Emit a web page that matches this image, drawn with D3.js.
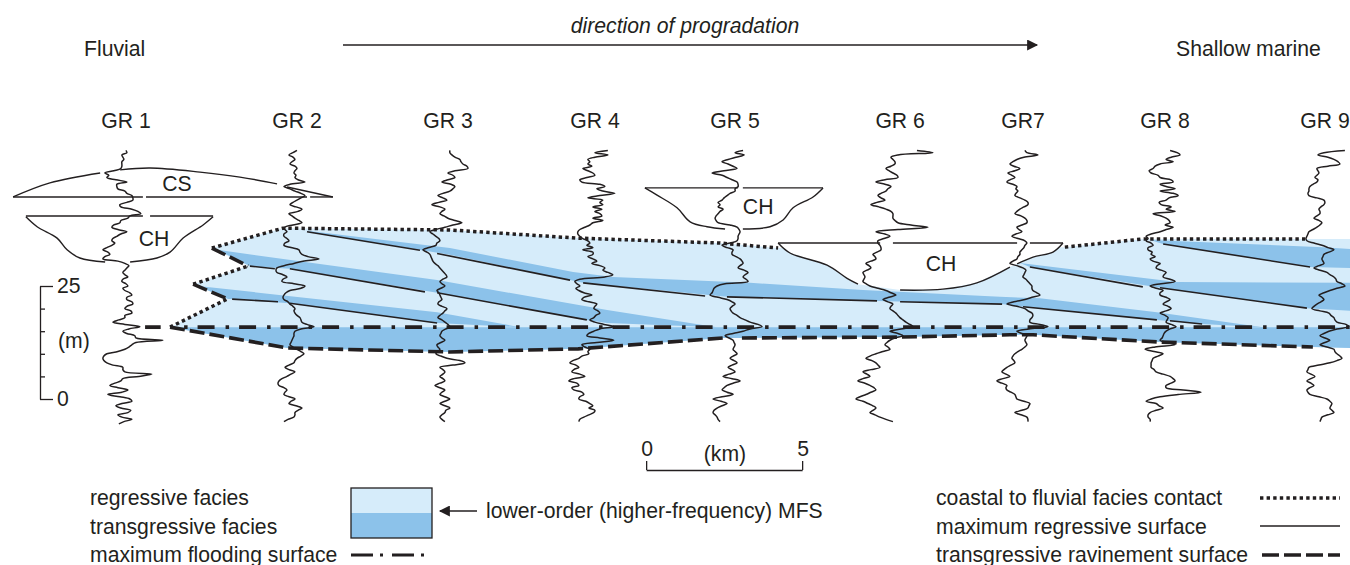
<!DOCTYPE html>
<html>
<head>
<meta charset="utf-8">
<script src="https://d3js.org/d3.v7.min.js"></script>
<style>
body { margin: 0; background: #fff; }
text { font-family: "Liberation Sans", Arial, sans-serif; fill: #231f20; }
</style>
</head>
<body>
<svg id="chart" width="1350" height="565"></svg>
<script>
// well names, where they sit along the section (km) and where the name goes
let wellNames = ["GR 1", "GR 2", "GR 3", "GR 4", "GR 5", "GR 6", "GR7", "GR 8", "GR 9"];
let wellKm = [3.97, 9.39, 14.26, 18.97, 23.40, 28.30, 32.69, 37.28, 42.37];
let wellLabelKm = [4.04, 9.52, 14.36, 19.07, 23.56, 28.85, 32.79, 37.34, 42.47];

// gamma ray deviation per log, one reading every half metre going down from 55 m
let gr1 = [2,3,-2,-1,0,-2,-2,-2,-3,-10,-19,-15,-17,-8,3,-7,-7,-6,1,3,8,9,9,3,-4,-3,8,14,17,6,4,-3,-4,-10,-12,-6,3,-3,-7,-11,-12,-9,-12,-17,-21,-16,-14,-19,-21,-6,1,5,3,1,-1,1,4,-1,-2,2,4,-1,1,6,8,3,3,8,9,3,1,7,8,1,1,-5,-11,1,16,5,-1,3,11,12,39,12,8,5,1,-6,-17,-20,-21,-20,-17,-11,-1,-1,1,28,15,-1,-3,-9,-14,-6,4,-2,-16,-4,6,8,-2,-8,-3,7,4,-6,-2,8,0,-5];
let gr2 = [4,0,-4,0,2,-1,-3,2,4,2,1,3,2,5,12,-3,-9,-3,2,8,12,8,4,0,-3,3,9,5,-4,-1,2,6,9,0,-8,-8,-6,-9,-9,-6,-4,-8,-9,-2,6,7,9,15,26,10,1,-9,-16,-17,-16,-10,-6,-10,-11,1,12,8,-3,-7,-9,-10,-9,-5,-3,0,2,1,2,4,7,8,9,14,21,8,2,1,1,0,-1,-2,-3,0,4,8,11,8,4,2,1,-4,-8,-4,2,-2,-6,-11,-14,-15,-14,-9,-6,-8,-9,-4,2,-2,-4,3,9,5,2,2,1,-5,-9];
let gr3 = [5,5,7,10,15,16,18,22,23,10,3,8,10,3,-3,6,10,8,5,-2,-7,-2,2,-6,-13,-5,0,-3,-5,-1,3,10,17,8,0,-9,-15,-12,-9,-6,-5,-8,-9,-16,-22,-18,-15,-14,-13,-12,-10,-7,-5,-3,-1,1,2,-2,-5,-3,0,-4,-8,-6,-5,-4,-3,-6,-7,-3,2,0,-2,-5,-7,-3,0,3,5,1,-3,-4,-5,-3,0,-4,-8,-7,-5,-7,-9,-4,2,15,20,8,-5,-2,0,-2,-5,-2,0,-5,-10,-5,0,-3,-5,0,5,0,-5,0,5,1,0,-3,-5,-3,0];
let gr4 = [16,3,16,3,-4,-2,-4,0,-9,-4,1,3,-5,-12,-10,8,13,5,11,23,8,-4,11,8,11,1,10,3,8,10,1,11,1,-2,-7,-12,-14,-14,-12,-9,-4,-2,-5,1,-9,1,1,-4,1,5,0,8,13,11,16,21,13,-12,-17,-15,-12,-16,-13,-8,0,-8,-10,-3,5,3,2,6,8,4,2,-2,3,12,22,8,2,-3,-5,8,22,5,-10,-7,-2,-4,-3,-10,-13,-19,-22,-16,-13,-18,-20,-12,-7,-18,-23,-15,-13,-20,-18,-10,-8,-12,-13,-6,-2,1,-3,3,2,-3,-8,-12,-13];
let gr5 = [13,5,14,6,-2,-8,-2,3,7,-6,-18,-8,-3,2,7,8,8,5,5,0,-3,-6,-8,-12,-10,-12,-7,-10,-12,-14,-15,-14,-12,0,7,9,10,9,8,8,7,0,-8,-3,3,2,2,6,10,12,13,10,8,14,18,15,13,16,18,-5,-13,-16,-17,-18,-20,-12,-3,2,5,2,0,1,3,7,10,15,20,28,32,20,13,3,-5,-1,3,4,5,4,3,5,7,3,0,4,7,2,-2,2,5,-1,-7,2,10,3,-3,-6,-8,-3,3,-8,-17,-9,-3,-8,-13,-16,-17,-15,-13,-12,-10];
let gr6 = [34,50,15,8,10,12,12,8,3,6,10,14,15,2,-7,2,8,5,3,-2,-5,-2,2,-6,-12,-4,3,8,10,10,10,12,15,28,45,15,-7,2,7,1,-5,-5,-3,-2,-2,-6,-10,-8,-7,-12,-17,-14,-12,-16,-20,-19,-18,-19,-20,-17,-13,-5,3,8,13,6,0,5,10,8,7,10,13,15,17,20,23,27,30,18,7,15,20,12,7,4,2,5,7,0,-7,-13,-17,-11,-7,-5,-3,-12,-20,-16,-13,-20,-25,-18,-13,-9,-7,-12,-17,-23,-27,-20,-15,-10,-7,-10,-13,-8,-3,3,10];
let gr7 = [5,7,18,4,-3,-7,-10,-6,0,-5,-12,-8,-5,-10,-13,-7,-3,-4,-2,-4,-5,0,5,8,8,4,0,-3,-5,1,5,7,7,2,-3,-1,2,-4,-8,-2,5,7,5,4,2,0,0,-2,-3,-7,-10,-3,3,6,5,4,3,6,8,10,12,12,13,17,20,12,5,-6,-13,-3,5,8,12,13,12,10,10,20,28,9,-3,2,7,6,5,6,7,5,2,-2,-5,-7,-8,-6,-5,-9,-13,-16,-18,-14,-10,-17,-23,-18,-13,-14,-13,-9,-5,-4,-3,4,10,9,8,2,-5,1,7,8,8];
let gr8 = [7,14,17,8,3,10,-3,-8,-10,-14,-12,-5,-3,8,10,-3,3,12,-3,10,15,6,3,-4,-2,8,3,12,-10,-2,3,6,7,2,10,3,-3,-12,-17,-15,-17,-12,-10,-15,-15,-11,-12,-8,-13,-10,-3,-6,-7,-2,3,1,0,7,12,-2,-13,-7,0,-3,-3,3,7,3,0,5,8,3,-3,2,5,4,3,8,13,7,3,1,0,-1,-3,4,12,-8,-18,-9,0,-5,-10,-11,-12,-12,-12,-9,-7,0,7,10,12,8,3,3,20,38,15,-3,-12,-17,-7,-4,0,-7,-13,-15,-15,-13,-13];
let gr9 = [23,2,-4,6,12,16,18,6,-5,-4,-3,-5,-7,-4,-5,-9,-12,-13,-13,-14,-13,-5,2,3,2,-1,-3,-2,-2,-5,-8,-3,0,-2,-5,-9,-13,-14,-15,-16,-15,-8,0,6,12,7,2,1,0,1,2,-3,-8,-2,5,8,12,14,15,20,23,15,8,2,-3,0,2,-1,-5,-8,-10,-2,7,9,12,13,15,24,27,15,7,2,-2,3,8,3,-2,5,12,13,15,18,20,15,8,-3,-13,-14,-15,-11,-7,-11,-15,-11,-8,-12,-15,-14,-12,-3,5,8,10,9,8,10,12,6,0,-1,-2];
let logs = [gr1, gr2, gr3, gr4, gr5, gr6, gr7, gr8, gr9];
let logTop = 55;
let logStep = 0.5;

// facies outlines as [km, m]
let regressive = [[6.79,33.4],[9.07,37.8],[14.42,37.4],[18.49,35.6],[23.08,34.5],[24.94,33.4],[34.13,33.6],[36.63,35.4],[43.27,35.4],[43.27,11.3],[42.08,11.5],[37.18,12.6],[33.11,14.2],[32.37,14.2],[28.85,13.7],[23.78,13.5],[23.17,13.5],[18.53,11.1],[14.42,10.4],[9.20,11.3],[5.45,15.9],[7.28,22.1],[6.19,25.4],[7.95,29.4]];
let transBase = [[5.54,15.9],[43.27,15.9],[43.27,11.3],[42.08,11.5],[37.18,12.6],[33.11,14.2],[32.37,14.2],[28.85,13.7],[23.78,13.5],[23.17,13.5],[18.53,11.1],[14.42,10.4],[9.20,11.3],[5.45,15.9]];
let trans1 = [[9.84,37.2],[14.42,33.4],[18.37,28.1],[19.65,27.0],[24.04,25.7],[27.66,24.1],[32.05,22.6],[33.33,22.3],[37.08,19.2],[40.48,15.9],[38.53,16.6],[37.08,17.5],[32.79,20.4],[32.12,21.0],[28.11,21.7],[23.30,22.6],[18.69,25.7],[14.42,31.9],[9.84,37.0]];
let trans2 = [[6.96,33.0],[14.01,26.3],[19.46,19.7],[22.98,15.9],[19.46,16.8],[18.81,17.5],[14.01,23.5],[9.29,28.8],[8.01,29.4]];
let trans3 = [[6.35,25.0],[14.01,19.2],[16.67,15.9],[14.01,16.8],[9.29,21.2],[7.44,22.1],[7.31,22.1]];
let trans4 = [[32.69,30.1],[37.72,25.9],[43.27,25.7],[43.27,19.5],[41.89,20.1],[37.18,24.6],[33.01,29.2]];
let trans5 = [[36.86,35.2],[42.40,33.6],[43.27,33.2],[43.27,29.0],[41.99,29.2],[37.28,34.3]];
let transBands = [transBase, trans1, trans2, trans3, trans4, trans5];

// surfaces, split where they stop short of the logs
let contactLines = [
  [[6.79,33.4],[9.07,37.8],[14.42,37.4],[18.49,35.6],[23.08,34.5],[24.94,33.4]],
  [[34.13,33.6],[36.63,35.4],[41.83,35.4]],
  [[6.19,25.4],[7.95,29.4]],
  [[5.45,15.9],[7.28,22.1]]
];
let regressiveSurfaces = [
  [[9.84,37.0],[13.46,32.9]], [[14.01,32.2],[18.27,26.3]], [[18.69,25.7],[22.60,22.8]],
  [[23.30,22.6],[28.11,21.7]], [[28.85,21.5],[32.12,21.0]], [[32.79,20.4],[37.08,17.5]],
  [[37.50,17.3],[38.53,16.6]],
  [[8.01,29.4],[8.81,28.8]], [[9.29,28.8],[13.62,23.7]], [[14.01,23.5],[18.81,17.5]],
  [[7.44,22.1],[8.91,21.5]], [[9.29,21.2],[14.01,16.8]],
  [[33.01,29.2],[36.63,24.8]], [[37.18,24.6],[41.89,20.1]],
  [[37.28,34.3],[41.99,29.2]]
];
let ravinement = [
  [[5.45,15.9],[9.20,11.3],[14.42,10.4],[18.53,11.1],[23.17,13.5]],
  [[23.78,13.5],[28.85,13.7],[32.37,14.2],[33.11,14.2],[37.18,12.6],[42.08,11.5]],
  [[6.79,33.4],[7.95,29.4]],
  [[6.19,25.4],[7.31,22.1]]
];
let mfs = [[5.90,15.9],[43.27,15.9]];
let mfsStub = [[4.65,15.9],[5.15,15.9]];

// channel and coastal sand bodies
let whiteFill = [[24.94,34.5],[34.07,34.5],[33.75,32.5],[33.11,31.4],[32.37,29.2],[31.31,25.7],[30.22,24.3],[28.85,24.1],[27.50,25.4],[27.15,26.7],[26.51,29.6],[25.32,32.3]];
let flatEdges = [
  [[0.42,44.7],[4.58,44.7]], [[4.68,44.7],[9.84,44.7]], [[9.94,44.7],[10.67,44.7]],
  [[0.83,40.5],[4.58,40.5]], [[4.81,40.5],[6.83,40.5]],
  [[20.67,46.7],[23.65,46.7]], [[23.81,46.7],[26.38,46.7]],
  [[24.94,34.5],[28.21,34.5]], [[28.62,34.5],[32.60,34.5]], [[33.01,34.5],[34.07,34.5]]
];
let curvedEdges = [
  [[0.42,44.7],[1.60,47.8],[3.21,50.0]],
  [[3.85,50.7],[4.81,51.1],[6.41,50.2],[7.69,49.1],[8.88,47.6]],
  [[9.20,46.9],[10.67,44.7]],
  [[0.83,40.3],[1.19,38.1],[1.83,35.6],[2.15,33.0],[2.56,31.2],[3.37,30.3]],
  [[4.17,30.3],[5.03,31.2],[5.45,32.5],[5.87,35.6],[6.51,38.5],[6.83,40.3]],
  [[20.67,46.7],[21.06,45.1],[21.70,42.3],[22.12,39.2],[22.66,38.1],[23.24,37.6]],
  [[23.81,37.6],[24.68,38.1],[25.10,39.6],[25.42,42.3],[26.06,44.7],[26.38,46.7]],
  [[24.94,34.5],[25.32,32.3],[26.51,29.6],[27.15,26.7],[27.50,25.4]],
  [[28.85,24.1],[30.22,24.3],[31.31,25.7],[32.37,29.2]],
  [[32.60,29.9],[33.11,31.4],[33.75,32.5],[34.07,34.5]]
];
let bodyLabels = [["CS", 5.67, 47.7], ["CH", 4.94, 35.4], ["CH", 24.3, 42.5], ["CH", 30.16, 29.9]];

let metreTicks = [0, 5, 10, 15, 20, 25];
let kmTicks = [0, 5];

let faciesLegend = ["regressive facies", "transgressive facies", "maximum flooding surface"];
let surfaceLegend = ["coastal to fluvial facies contact", "maximum regressive surface", "transgressive ravinement surface"];

let lightBlue = "#d6ecfa";
let darkBlue = "#8cc2ea";
let ink = "#231f20";
let fontSize = 21.2;

let svg = d3.select("#chart");

// 31.2 px to a km and 4.52 px to a metre, same as the scale bars
let xScale = d3.scaleLinear().domain([0, 43.27]).range([0, 1350]);
let yScale = d3.scaleLinear().domain([0, 25]).range([399, 286]);
let grScale = d3.scaleLinear().domain([-50, 50]).range([-50, 50]);

let straight = d3.line().x(d => xScale(d[0])).y(d => yScale(d[1]));
let curved = d3.line().x(d => xScale(d[0])).y(d => yScale(d[1])).curve(d3.curveCatmullRom.alpha(0.5));

// facies fills
svg.append("path").attr("d", straight(regressive) + "Z").style("fill", lightBlue);
svg.selectAll(".band").data(transBands).join("path")
  .attr("class", "band")
  .attr("d", d => straight(d) + "Z")
  .style("fill", darkBlue);
svg.append("path").attr("d", straight(whiteFill) + "Z").style("fill", "#fff");

// surfaces
function drawLines(data, gen, width, dash, offset) {
  svg.append("g").selectAll("path").data(data).join("path")
    .attr("d", gen)
    .style("fill", "none")
    .style("stroke", ink)
    .style("stroke-width", width)
    .style("stroke-dasharray", dash)
    .style("stroke-dashoffset", offset || 0);
}
drawLines(contactLines, straight, 3.5, "3.4 3.2");
drawLines(regressiveSurfaces, straight, 1.6, null);
drawLines(ravinement, straight, 3.6, "15 5");
drawLines([mfs], straight, 3.8, "17 11 3.5 10", 28);
drawLines([mfsStub], straight, 3.8, null);
drawLines(flatEdges, straight, 1.4, null);
drawLines(curvedEdges, curved, 1.4, null);

// gamma ray logs
logs.forEach((log, w) => {
  let logLine = d3.line()
    .x(d => xScale(wellKm[w]) + grScale(d))
    .y((d, i) => yScale(logTop - i * logStep))
    .curve(d3.curveCatmullRom.alpha(0.5));
  svg.append("path")
    .attr("d", logLine(log))
    .style("fill", "none")
    .style("stroke", ink)
    .style("stroke-width", 1.5);
});

// text labels
function label(x, y, txt, size, anchor) {
  return svg.append("text")
    .attr("x", x).attr("y", y)
    .style("font-size", size + "px")
    .style("text-anchor", anchor || "start")
    .text(txt);
}
svg.append("g").selectAll("text").data(wellNames).join("text")
  .attr("x", (d, i) => xScale(wellLabelKm[i]))
  .attr("y", 128)
  .style("font-size", fontSize + "px")
  .style("text-anchor", "middle")
  .text(d => d);
bodyLabels.forEach(d => label(xScale(d[1]), yScale(d[2]), d[0], fontSize, "middle").attr("dy", "0.35em"));

label(84, 56, "Fluvial", fontSize);
label(1176, 56, "Shallow marine", fontSize);
label(685, 33, "direction of progradation", fontSize, "middle").style("font-style", "italic");

// arrows
svg.append("defs").append("marker")
  .attr("id", "head").attr("viewBox", "0 0 10 10")
  .attr("refX", 9).attr("refY", 5)
  .attr("markerWidth", 13).attr("markerHeight", 11)
  .attr("markerUnits", "userSpaceOnUse")
  .attr("orient", "auto")
  .append("path").attr("d", "M0 0L10 5L0 10Z").style("fill", ink);
svg.append("line").attr("x1", 343).attr("x2", 1037).attr("y1", 45).attr("y2", 45)
  .style("stroke", ink).style("stroke-width", 1.3).attr("marker-end", "url(#head)");
svg.append("line").attr("x1", 477).attr("x2", 440).attr("y1", 511).attr("y2", 511)
  .style("stroke", ink).style("stroke-width", 1.5).attr("marker-end", "url(#head)");

// metres scale bar
let mAxis = d3.axisRight(yScale).tickValues(metreTicks).tickSize(5).tickSizeOuter(0).tickFormat("");
let mBar = svg.append("g").attr("transform", "translate(40,0)").call(mAxis);
mBar.selectAll(".tick line").attr("x2", d => (d == 0 || d == 25) ? 13 : 5).style("stroke", ink).style("stroke-width", 1.3);
mBar.select(".domain").style("stroke", ink).style("stroke-width", 1.3);
label(57, 293, "25", fontSize);
label(57, 406, "0", fontSize);
label(58, 348, "(m)", fontSize);

// km scale bar
let kmScale = d3.scaleLinear().domain([0, 5]).range([xScale(20.71), xScale(25.71)]);
let kmAxis = d3.axisTop(kmScale).tickValues(kmTicks).tickSize(9).tickSizeOuter(0).tickFormat("");
let kmBar = svg.append("g").attr("transform", "translate(0,470)").call(kmAxis);
kmBar.selectAll("line").style("stroke", ink).style("stroke-width", 1.3);
kmBar.select(".domain").style("stroke", ink).style("stroke-width", 1.3);
kmTicks.forEach(d => label(kmScale(d) + 1, 456, d, fontSize, "middle"));
label(725, 461, "(km)", fontSize, "middle");

// legend, left side
faciesLegend.forEach((d, i) => label(90, 505 + i * 28.5, d, fontSize));
svg.append("rect").attr("x", 351).attr("y", 488).attr("width", 81).attr("height", 25).style("fill", lightBlue);
svg.append("rect").attr("x", 351).attr("y", 513).attr("width", 81).attr("height", 25).style("fill", darkBlue);
svg.append("rect").attr("x", 351).attr("y", 488).attr("width", 81).attr("height", 50)
  .style("fill", "none").style("stroke", ink).style("stroke-width", 1.3);
label(486, 518, "lower-order (higher-frequency) MFS", fontSize);
svg.append("line").attr("x1", 351).attr("x2", 424).attr("y1", 555).attr("y2", 555)
  .style("stroke", ink).style("stroke-width", 3).style("stroke-dasharray", "22 7 3 9");

// legend, right side
surfaceLegend.forEach((d, i) => label(936, 505 + i * 28.5, d, fontSize));
svg.append("line").attr("x1", 1260).attr("x2", 1340).attr("y1", 498).attr("y2", 498)
  .style("stroke", ink).style("stroke-width", 3.5).style("stroke-dasharray", "3.4 3.2");
svg.append("line").attr("x1", 1260).attr("x2", 1340).attr("y1", 526).attr("y2", 526)
  .style("stroke", ink).style("stroke-width", 1.3);
svg.append("line").attr("x1", 1262).attr("x2", 1340).attr("y1", 555).attr("y2", 555)
  .style("stroke", ink).style("stroke-width", 3.4).style("stroke-dasharray", "17 5");
</script>
</body>
</html>
